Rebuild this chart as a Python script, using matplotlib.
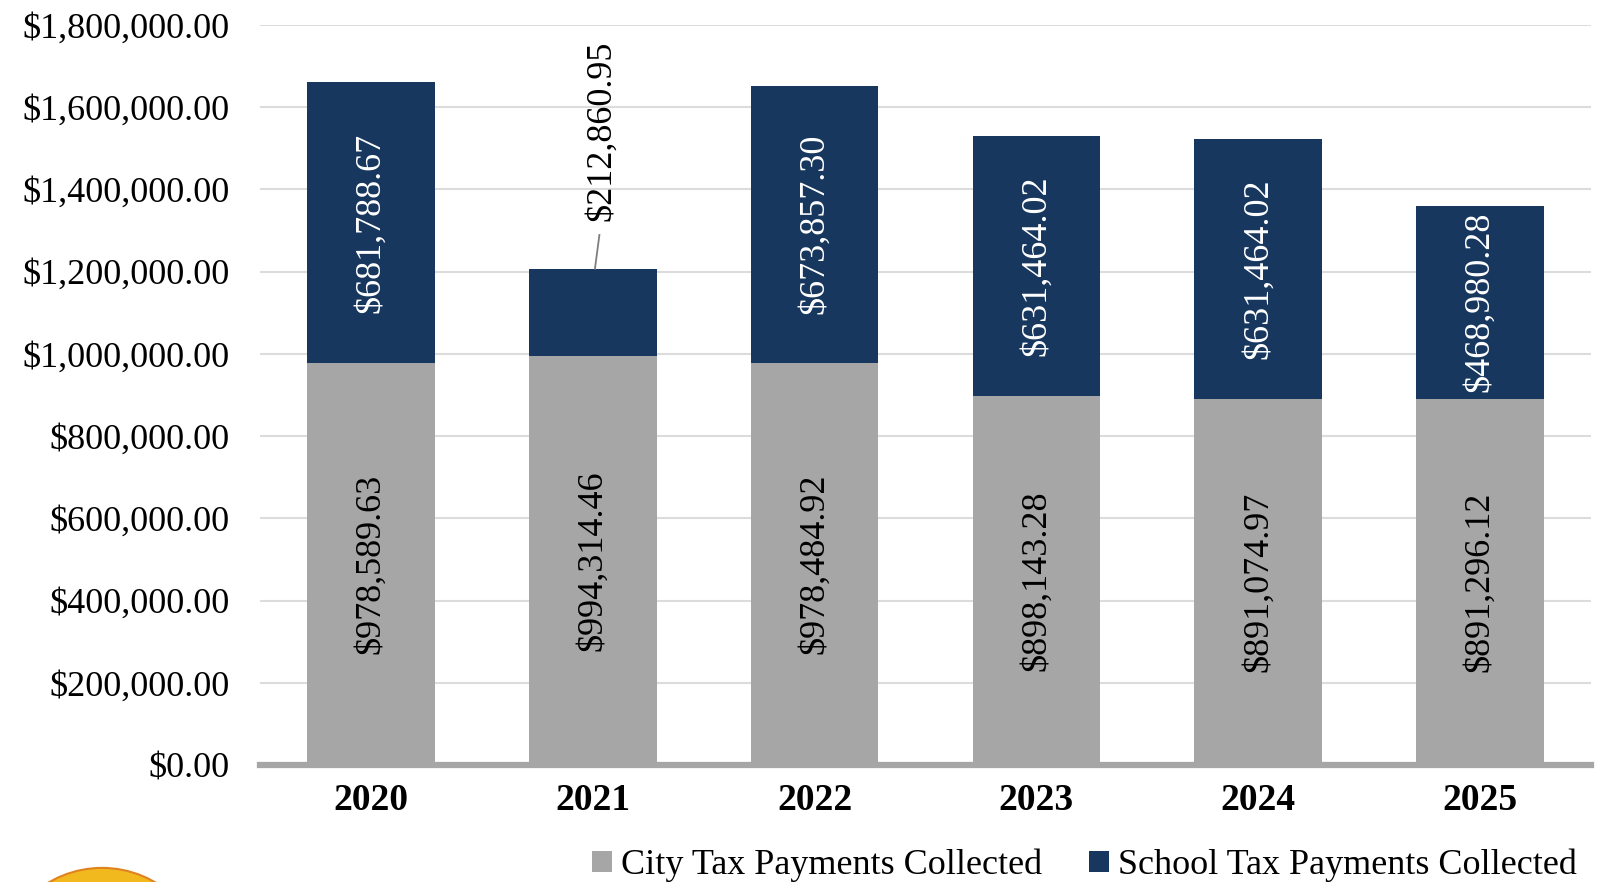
import matplotlib
matplotlib.use("Agg")
import matplotlib.pyplot as plt
from matplotlib.patches import Ellipse
from matplotlib.ticker import FuncFormatter

years = ["2020", "2021", "2022", "2023", "2024", "2025"]
city_tax = [978589.63, 994314.46, 978484.92, 898143.28, 891074.97, 891296.12]
school_tax = [681788.67, 212860.95, 673857.30, 631464.02, 631464.02, 468980.28]

GRAY = "#A6A6A6"
NAVY = "#17375E"
FONT = "Liberation Serif"
FS = 26

plt.rcParams["font.family"] = [FONT, "DejaVu Serif"]

fig = plt.figure(figsize=(16.02, 8.82), dpi=100)
ax = fig.add_axes([0.1623, 0.1327, 0.9931 - 0.1623, 0.9717 - 0.1327])

x = list(range(len(years)))
w = 0.575
ax.bar(x, city_tax, w, color=GRAY, label="City Tax Payments Collected", zorder=2)
ax.bar(x, school_tax, w, bottom=city_tax, color=NAVY,
       label="School Tax Payments Collected", zorder=2)


def money(v):
    return "${:,.2f}".format(v)


for i in x:
    ax.text(i, city_tax[i] / 2, money(city_tax[i]), rotation=90, ha="center",
            va="center", fontsize=FS, color="black", zorder=3)
    if school_tax[i] > 300000:
        ax.text(i, city_tax[i] + school_tax[i] / 2, money(school_tax[i]),
                rotation=90, ha="center", va="center", fontsize=FS,
                color="white", zorder=3)
    else:
        # small segment: label sits above the bar with a leader line
        top = city_tax[i] + school_tax[i]
        ax.plot([i + 0.01, i + 0.03], [top, top + 82000], color="#7F7F7F",
                lw=1.3, zorder=3)
        ax.text(i + 0.04, top + 335000, money(school_tax[i]), rotation=90,
                ha="center", va="center", fontsize=FS, color="black", zorder=3)

ax.set_xlim(-0.5, len(years) - 0.5)
ax.set_ylim(0, 1800000)
ax.set_yticks(range(0, 1800001, 200000))
ax.yaxis.set_major_formatter(FuncFormatter(lambda v, p: money(v)))
ax.set_xticks(x)
ax.set_xticklabels(years, fontweight="bold")
ax.tick_params(axis="y", length=0, pad=22, labelsize=FS)
ax.tick_params(axis="x", length=0, pad=13, labelsize=27)

ax.grid(axis="y", color="#DCDCDC", lw=1.5, zorder=0)
for s in ["top", "right", "left"]:
    ax.spines[s].set_visible(False)
ax.spines["bottom"].set_color(GRAY)
ax.spines["bottom"].set_linewidth(4.5)
ax.spines["bottom"].set_zorder(4)

fig.legend(loc="lower right", bbox_to_anchor=(1.0, -0.029), ncol=2,
           frameon=False, fontsize=FS, handlelength=0.55, handleheight=0.55,
           handletextpad=0.25, columnspacing=1.3, borderpad=0.2)

# partial seal in the lower-left corner
seal = Ellipse((0.0637, -0.103), 0.131, 0.238, transform=fig.transFigure,
               facecolor="#F2B91E", edgecolor="#E0831F", lw=1.5)
fig.patches.append(seal)

fig.savefig("out.png", dpi=100)
